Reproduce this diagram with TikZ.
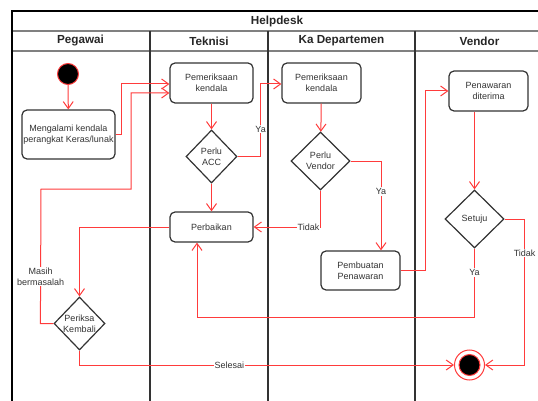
\documentclass[tikz,border=0pt]{standalone}
\usepackage{fontspec}
\setmainfont{Liberation Sans}
\usetikzlibrary{arrows.meta,shapes.geometric}
\definecolor{lred}{HTML}{FF3B3B}
\definecolor{dgray}{HTML}{333333}
\definecolor{mgray}{HTML}{808080}

\begin{document}
\begin{tikzpicture}[
   x=1pt,y=-1pt,
   font=\fontsize{9}{11}\selectfont,
   lane/.style={draw=dgray,line width=1.2pt},
   rule/.style={draw=mgray,line width=1.3pt},
   head/.style={font=\fontsize{11.7}{14}\selectfont\bfseries,text=black!85},
   state/.style={draw=dgray,line width=1.2pt,rounded corners=5pt,fill=white,text=dgray,align=center,inner sep=0pt},
   choice/.style={diamond,draw=dgray,line width=1.2pt,fill=white,text=dgray,align=center,inner sep=-4pt},
   to/.style={-{Straight Barb[length=7pt,width=10pt]},draw=lred,line width=1pt},
   lbl/.style={fill=white,inner sep=1pt,text=dgray,align=center},
   startdot/.style={circle,draw=lred,fill=black,line width=1pt,minimum size=21pt,inner sep=0pt},
   enddot/.style={circle,draw=lred,line width=1pt,minimum size=30pt,inner sep=0pt,
     path picture={\fill[black,draw=lred,line width=1pt] (path picture bounding box.center) circle (10.5pt);}}]
\useasboundingbox (0,0) rectangle (538,401);
% pool and lanes
\draw[rule] (12,31) -- (538,31);
\draw[rule] (12,51) -- (538,51);
\draw[lane] (150,31) -- (150,401);
\draw[lane] (268,31) -- (268,401);
\draw[lane] (415,31) -- (415,401);
\draw[black,line width=1.2pt] (12,401) -- (12,11) -- (538,11);
\node[head] (title) at (277,21) {Helpdesk};
\node[head] (h1) at (80.5,41) {Pegawai};
\node[head] (h2) at (209,41) {Teknisi};
\node[head] (h3) at (341.5,41) {Ka Departemen};
\node[head] (h4) at (479.5,41) {Vendor};
% activities
\node[startdot] (S) at (68,74) {};
\node[state,minimum width=93pt,minimum height=49pt] (M) at (68.5,134.5) {Mengalami kendala\\perangkat Keras/lunak};
\node[state,minimum width=83pt,minimum height=40pt] (P1) at (211.5,83) {Pemeriksaan\\kendala};
\node[choice,minimum width=51pt,minimum height=53pt] (A) at (211.5,156.5) {Perlu\\ACC};
\node[state,minimum width=79pt,minimum height=40pt] (P2) at (321.5,83) {Pemeriksaan\\kendala};
\node[choice,minimum width=59pt,minimum height=58pt] (B) at (320.5,161) {Perlu\\Vendor};
\node[state,minimum width=83pt,minimum height=30pt] (R) at (211.5,227) {Perbaikan};
\node[state,minimum width=79pt,minimum height=39pt] (N) at (360.5,270.5) {Pembuatan\\Penawaran};
\node[state,minimum width=79pt,minimum height=40pt] (V) at (488.5,91) {Penawaran\\diterima};
\node[choice,minimum width=59pt,minimum height=58pt] (D) at (474.5,219) {Setuju};
\node[choice,minimum width=51pt,minimum height=53pt] (K) at (79.5,323.5) {Periksa\\Kembali};
\node[enddot] (E) at (469.5,365) {};
% flows
\draw[to] (S) -- (M);
\draw[to] (M.east) -- ++(6,0) |- ([yshift=-1pt]P1.west);
\draw[to] (K.west) -- ++(-13,0) -- node[lbl,pos=0.35] {Masih\\bermasalah} (41,189) -| (131,189) |- ([yshift=-10pt]P1.west);
\draw[to] (P1) -- (A);
\draw[to] (A.east) -- ++(23,0) |- node[lbl,pos=0.19] {Ya} ([yshift=-1pt]P2.west);
\draw[to] (A) -- (R);
\draw[to] (P2) -- (B);
\draw[to] (B.south) |- node[lbl,pos=0.59] {Tidak} (R.east);
\draw[to] (B.east) -| node[lbl,pos=0.67] {Ya} ([xshift=20.5pt]N.north);
\draw[to] (N.east) -- ++(25,0) |- (V.west);
\draw[to] (D |- V.south) -- (D.north);
\draw[to] (D.south) -- node[lbl,pos=0.35] {Ya} (474.5,317) -| ([xshift=-14.5pt]R.south);
\draw[to] (D.east) -- ++(20,0) |- node[lbl,pos=0.116] {Tidak} (E.east);
\draw[to] (R.west) -| (K.north);
\draw[to] (K.south) |- node[lbl,pos=0.7] {Selesai} (E.west);
\end{tikzpicture}
\end{document}
